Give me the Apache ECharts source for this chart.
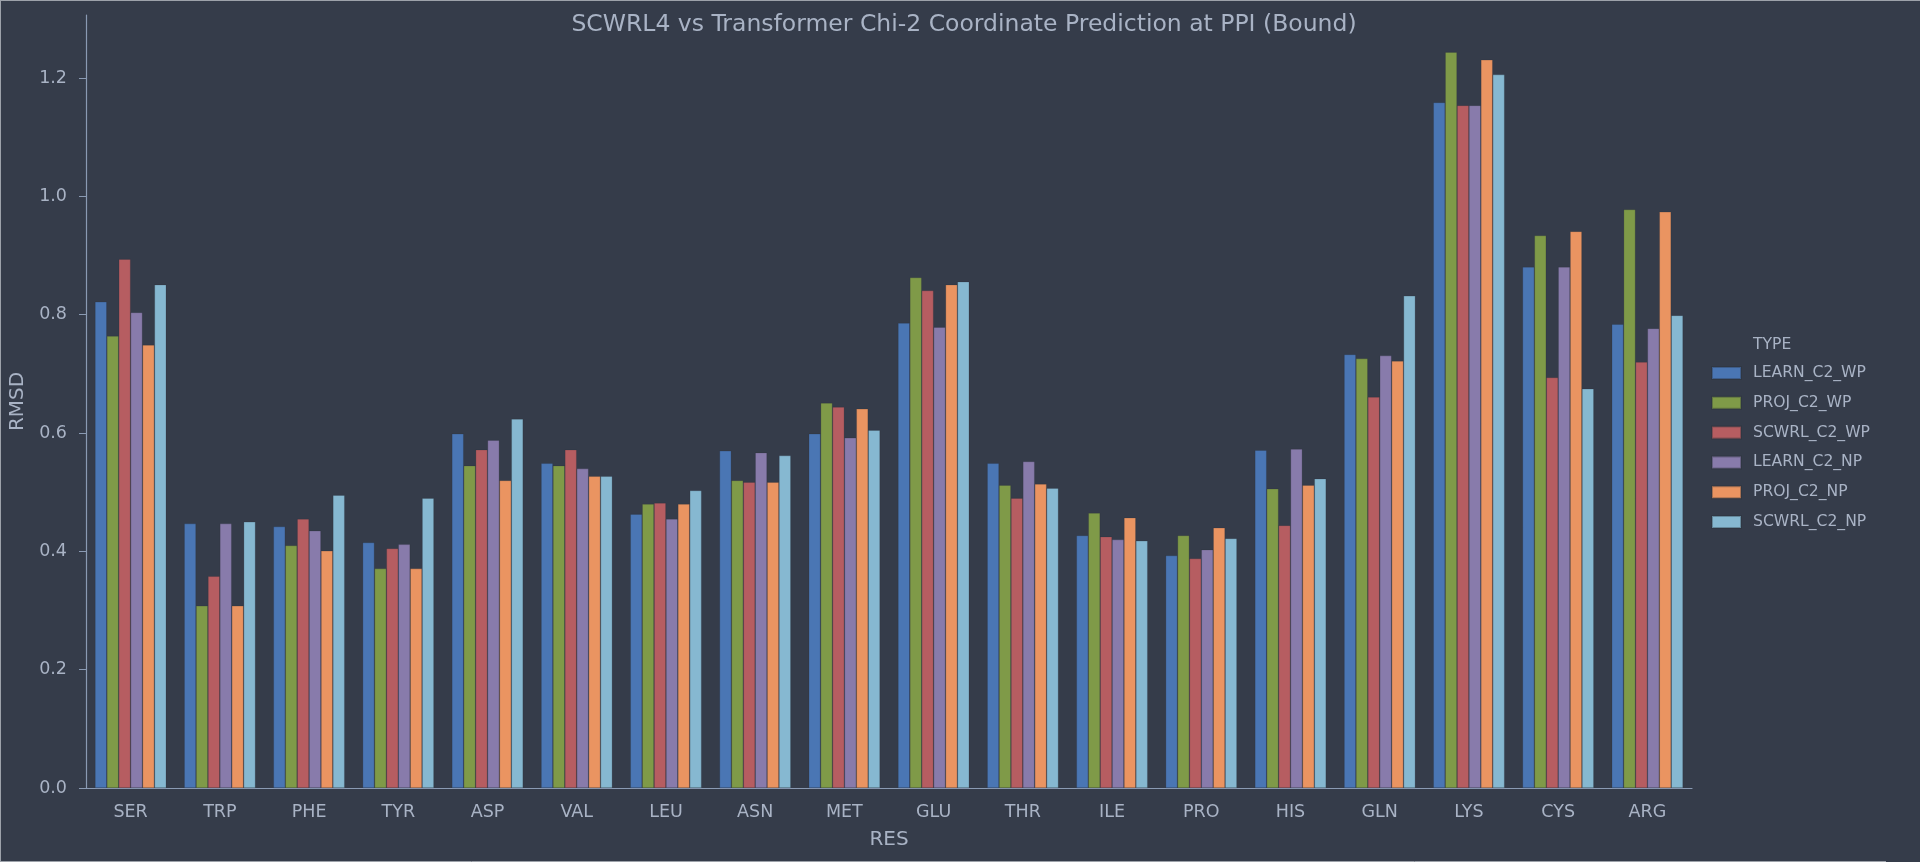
<!DOCTYPE html>
<html>
<head>
<meta charset="utf-8">
<script src="https://cdn.jsdelivr.net/npm/echarts@6/dist/echarts.min.js"></script>
<style>
html,body{margin:0;padding:0;background:#353c4a;}
#chart{width:1920px;height:862px;}
</style>
</head>
<body>
<div id="chart"></div>
<script>
const categories = ['SER','TRP','PHE','TYR','ASP','VAL','LEU','ASN','MET','GLU','THR','ILE','PRO','HIS','GLN','LYS','CYS','ARG'];
const seriesNames = ['LEARN_C2_WP','PROJ_C2_WP','SCWRL_C2_WP','LEARN_C2_NP','PROJ_C2_NP','SCWRL_C2_NP'];
const LEARN_C2_WP = [0.822,0.447,0.442,0.415,0.599,0.549,0.463,0.570,0.599,0.786,0.549,0.427,0.393,0.571,0.733,1.159,0.881,0.784];
const PROJ_C2_WP  = [0.764,0.308,0.410,0.371,0.545,0.545,0.480,0.520,0.651,0.863,0.512,0.465,0.427,0.506,0.726,1.244,0.934,0.978];
const SCWRL_C2_WP = [0.894,0.358,0.455,0.405,0.572,0.572,0.482,0.517,0.644,0.841,0.490,0.425,0.388,0.444,0.661,1.154,0.694,0.720];
const LEARN_C2_NP = [0.804,0.447,0.435,0.412,0.588,0.540,0.455,0.567,0.592,0.779,0.552,0.420,0.403,0.573,0.731,1.154,0.881,0.777];
const PROJ_C2_NP  = [0.749,0.308,0.401,0.371,0.520,0.527,0.480,0.517,0.641,0.851,0.514,0.457,0.440,0.512,0.722,1.231,0.941,0.974];
const SCWRL_C2_NP = [0.851,0.450,0.495,0.490,0.624,0.527,0.503,0.562,0.605,0.856,0.507,0.418,0.422,0.523,0.832,1.206,0.675,0.799];
const yTicks = [0, 0.2, 0.4, 0.6, 0.8, 1.0, 1.2];
const seriesData = [LEARN_C2_WP, PROJ_C2_WP, SCWRL_C2_WP, LEARN_C2_NP, PROJ_C2_NP, SCWRL_C2_NP];
const colors = ['#4a76b4','#7f9a48','#b65d61','#887bab','#ea9461','#86b8d1'];

const textColor = '#a9b3c5';
const axisColor = '#8a9ab3';
const font = 'DejaVu Sans';

const chart = echarts.init(document.getElementById('chart'), null, {renderer:'canvas'});
chart.setOption({
  backgroundColor: '#353c4a',
  animation: false,
  color: colors,
  textStyle: {fontFamily: font},
  title: {
    text: 'SCWRL4 vs Transformer Chi-2 Coordinate Prediction at PPI (Bound)',
    left: 959, top: 8, textAlign: 'center',
    textStyle: {color: textColor, fontSize: 23.5, fontWeight: 'normal', fontFamily: font}
  },
  grid: {left: 86, right: 228, top: 15, bottom: 74, containLabel: false, outerBoundsMode: 'none'},
  legend: {
    orient: 'vertical', left: 1706, top: 360,
    itemWidth: 29, itemHeight: 12, itemGap: 13.8,
    icon: 'rect',
    data: seriesNames,
    textStyle: {color: textColor, fontSize: 15.6, fontFamily: font, padding: [0,0,0,7]}
  },
  graphic: [
    {type: 'text', left: 1773 - 20, top: 337, style: {text: 'TYPE', fill: textColor, font: '15.6px "DejaVu Sans"'}},
    {type: 'line', shape: {x1: 0, y1: 0.5, x2: 1920, y2: 0.5}, style: {stroke: '#9da2aa', lineWidth: 1}},
    {type: 'line', shape: {x1: 0.5, y1: 0, x2: 0.5, y2: 862}, style: {stroke: '#9da2aa', lineWidth: 1}},
    {type: 'line', shape: {x1: 0, y1: 861.5, x2: 1886, y2: 861.5}, style: {stroke: '#9da2aa', lineWidth: 1}}
  ],
  xAxis: {
    type: 'category', data: categories,
    name: 'RES', nameLocation: 'middle', nameGap: 42,
    nameTextStyle: {color: textColor, fontSize: 20, fontFamily: font},
    axisLine: {lineStyle: {color: axisColor, width: 1.2}},
    axisTick: {alignWithLabel: true, length: 7, lineStyle: {color: axisColor}},
    axisLabel: {color: textColor, fontSize: 17.5, fontFamily: font, margin: 15},
    splitLine: {show: false}
  },
  yAxis: {
    type: 'value', min: 0, max: 1.3067, interval: 0.2,
    name: 'RMSD', nameLocation: 'middle', nameGap: 50, nameRotate: 90,
    nameTextStyle: {color: textColor, fontSize: 20, fontFamily: font},
    axisLine: {show: true, lineStyle: {color: axisColor, width: 1.2}},
    axisTick: {show: true, length: 7, lineStyle: {color: axisColor}, customValues: yTicks},
    axisLabel: {color: textColor, fontSize: 17.5, fontFamily: font, margin: 19, customValues: yTicks,
      formatter: v => v.toFixed(1)},
    splitLine: {show: false}
  },
  series: seriesNames.map((n, i) => ({
    name: n, type: 'bar', data: seriesData[i],
    barGap: '0%', barCategoryGap: '20%',
    itemStyle: {color: colors[i], borderColor: 'rgba(40,45,55,0.35)', borderWidth: 0.6}
  }))
});
</script>
</body>
</html>
